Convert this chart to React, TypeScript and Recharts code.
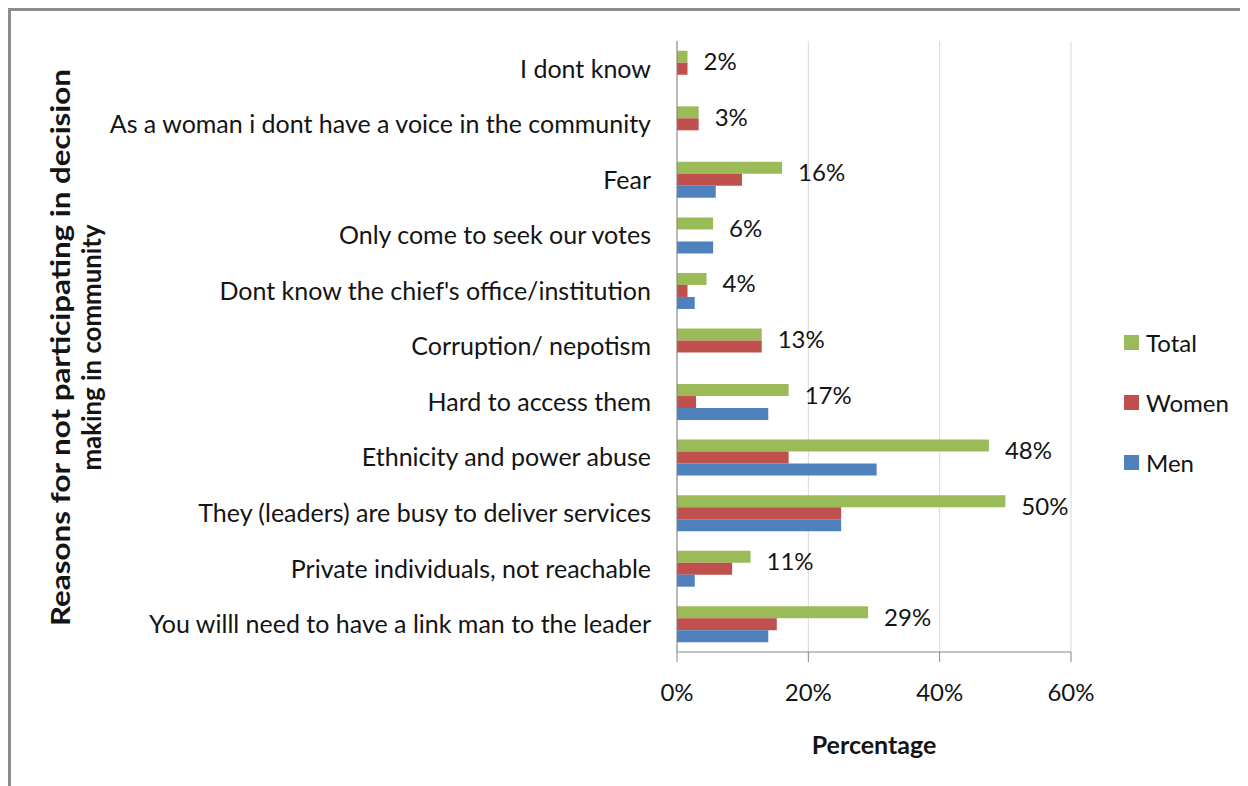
import React from "react";
import { BarChart, Bar, XAxis, YAxis, CartesianGrid, Legend, LabelList } from "recharts";

const categories = [
  "I dont know",
  "As a woman i dont have a voice in the community",
  "Fear",
  "Only come to seek our votes",
  "Dont know the chief's office/institution",
  "Corruption/ nepotism",
  "Hard to access them",
  "Ethnicity and power abuse",
  "They (leaders) are busy to deliver services",
  "Private individuals, not reachable",
  "You willl need to have a link man to the leader",
];
const totalValues = [1.6, 3.3, 16.0, 5.5, 4.5, 12.9, 17.0, 47.5, 50.0, 11.2, 29.1];
const womenValues = [1.6, 3.3, 9.9, 0, 1.6, 12.9, 2.9, 17.0, 25.0, 8.4, 15.2];
const menValues = [0, 0, 5.9, 5.5, 2.7, 0, 13.9, 30.4, 25.0, 2.7, 13.9];
const totalLabels = ["2%", "3%", "16%", "6%", "4%", "13%", "17%", "48%", "50%", "11%", "29%"];
const xTicks = [0, 20, 40, 60];

const seriesNames = ["Total", "Women", "Men"];
const seriesColors = ["#9bbb59", "#c0504d", "#4f81bd"];

const data = categories.map((c, i) => ({
  name: c,
  Total: totalValues[i],
  Women: womenValues[i],
  Men: menValues[i],
  label: totalLabels[i],
}));

const FONT = "Lato, 'Open Sans', sans-serif";
const TEXT = "#141414";
const AXIS = "#868686";

const TotalLabel = (props: any) => {
  const { x, y, width, height, index } = props;
  return (
    <text
      x={x + width + 16}
      y={y + height / 2 + 4}
      dominantBaseline="central"
      fontSize={24}
      fontFamily={FONT}
      fill={TEXT}
    >
      {totalLabels[index]}
    </text>
  );
};

const YTitle = (props: any) => {
  const vb = props.viewBox || { x: 0, y: 33, width: 669, height: 611 };
  const cy = vb.y + vb.height / 2 + 1;
  return (
    <g fontFamily={FONT} fontWeight="bold" fontSize={26} fill={TEXT}>
      <text
        x={52}
        y={cy}
        textAnchor="middle"
        dominantBaseline="central"
        textLength={557}
        lengthAdjust="spacingAndGlyphs"
        transform={`rotate(-90, 52, ${cy})`}
      >
        Reasons for not participating in decision
      </text>
      <text
        x={83}
        y={cy}
        textAnchor="middle"
        dominantBaseline="central"
        textLength={246}
        lengthAdjust="spacingAndGlyphs"
        transform={`rotate(-90, 83, ${cy})`}
      >
        making in community
      </text>
    </g>
  );
};

const XTitle = (props: any) => {
  const vb = props.viewBox || { x: 669, y: 644, width: 394, height: 60 };
  return (
    <text
      x={vb.x + vb.width / 2}
      y={vb.y + 92}
      textAnchor="middle"
      dominantBaseline="central"
      fontFamily={FONT}
      fontWeight="bold"
      fontSize={25}
      fill={TEXT}
    >
      Percentage
    </text>
  );
};

const LegendContent = () => (
  <div style={{ fontFamily: FONT, fontSize: 24, color: TEXT }}>
    {seriesNames.map((n, i) => (
      <div key={n} style={{ display: "flex", alignItems: "center", height: 60 }}>
        <span
          style={{
            display: "inline-block",
            width: 15,
            height: 15,
            background: seriesColors[i],
            marginLeft: 8,
            marginRight: 7,
          }}
        />
        <span>{n}</span>
      </div>
    ))}
  </div>
);

export default function App() {
  return (
    <div style={{ position: "relative", width: 1240, height: 778, background: "#fff" }}>
      <BarChart
        width={1240}
        height={778}
        data={data}
        layout="vertical"
        margin={{ top: 33, right: 57, bottom: 74, left: 0 }}
        barCategoryGap="17.6%"
        barGap={0}
      >
        <CartesianGrid horizontal={false} stroke="#d9d9d9" />
        <XAxis
          type="number"
          domain={[0, 60]}
          ticks={xTicks}
          tickFormatter={(v: number) => `${v}%`}
          height={60}
          tickSize={10}
          tickMargin={22}
          tick={{ fontSize: 24, fontFamily: FONT, fill: TEXT }}
          axisLine={{ stroke: AXIS }}
          tickLine={{ stroke: AXIS }}
          label={(p: any) => <XTitle {...p} />}
        />
        <YAxis
          type="category"
          dataKey="name"
          width={669}
          tickLine={false}
          tickSize={0}
          tickMargin={26}
          interval={0}
          tick={{ fontSize: 25, fontFamily: FONT, fill: TEXT }}
          axisLine={{ stroke: AXIS }}
          label={(p: any) => <YTitle {...p} />}
        />
        <Legend
          layout="vertical"
          align="right"
          verticalAlign="middle"
          wrapperStyle={{ width: 120, left: 1108, top: 304 }}
          content={() => <LegendContent />}
        />
        <Bar dataKey="Total" fill={seriesColors[0]} isAnimationActive={false}>
          <LabelList dataKey="label" content={(p: any) => <TotalLabel {...p} />} />
        </Bar>
        <Bar dataKey="Women" fill={seriesColors[1]} isAnimationActive={false} />
        <Bar dataKey="Men" fill={seriesColors[2]} isAnimationActive={false} />
      </BarChart>
      <div
        style={{
          position: "absolute",
          left: 0,
          top: 0,
          width: 1240,
          height: 778,
          boxSizing: "border-box",
          borderTop: "3px solid #8c8c8c",
          borderLeft: "3px solid #8c8c8c",
          pointerEvents: "none",
        }}
      />
    </div>
  );
}
